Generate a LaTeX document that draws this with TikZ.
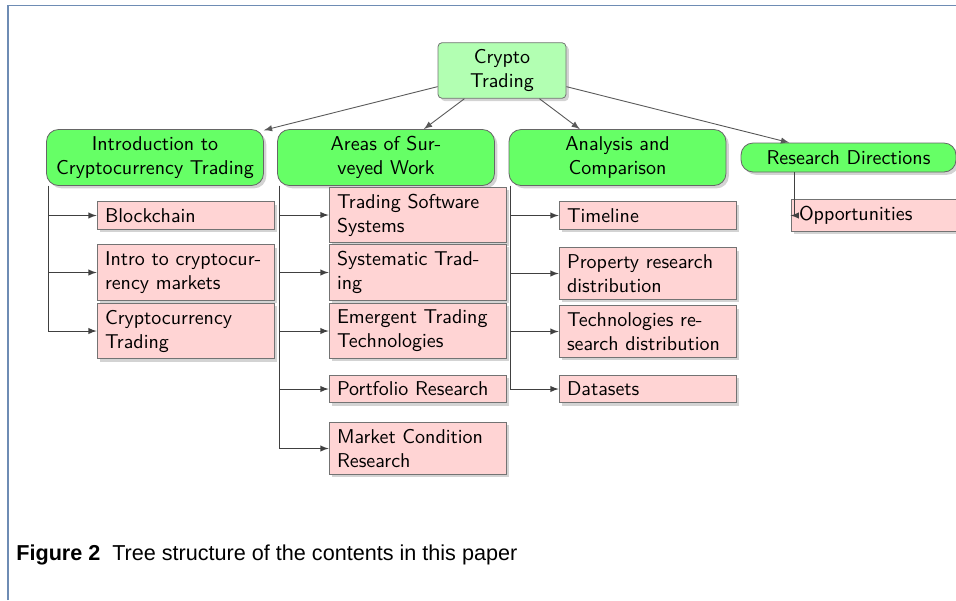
\documentclass[tikz,border=0pt]{standalone}
\usepackage{fontspec}
\newfontfamily\capsans{Liberation Sans}
\usetikzlibrary{shadows}
\definecolor{frameblue}{RGB}{110,140,180}

\tikzset{
    root/.style={draw=black!55, fill=green!30, rounded corners=2pt,
        drop shadow={shadow xshift=1.4pt,shadow yshift=-1.4pt,opacity=0.35},
        align=center, minimum width=64pt, minimum height=27.5pt},
    topic/.style={draw=black!60, fill=green!60, rounded corners=6pt,
        drop shadow={shadow xshift=1.4pt,shadow yshift=-1.4pt,opacity=0.35},
        align=center, text width=101.8pt, minimum height=28pt},
    leaf/.style={draw=black!55, fill=red!17,
        drop shadow={shadow xshift=1.4pt,shadow yshift=-1.4pt,opacity=0.35},
        align=left, text width=80.5pt, inner xsep=4pt, minimum height=13pt},
    link/.style={->, draw=black!75, line width=0.45pt}
}

\begin{document}
\begin{tikzpicture}[x=0.5pt,y=-0.5pt,font=\sffamily,>=latex]
    \newcommand{\leafLink}[2]{
        \draw[link] (#1.south west) ++(2,0) |- (#2.west);
    }
    \useasboundingbox (0,0) rectangle (956,600);

    % frame
    \draw[frameblue, line width=0.65pt] (8,600) -- (8,5.5) -- (956,5.5);

    \node[root] (crypto) at (502,70.5) {Crypto\\Trading};

    \node[topic] (intro) at (155,157.5) {Introduction to\\Cryptocurrency Trading};
    \node[topic] (areas) at (386,157.5) {Areas of Sur-\\veyed Work};
    \node[topic] (analysis) at (617.5,157.5) {Analysis and\\Comparison};
    \node[topic, text width=100.8pt, minimum height=14.5pt] (directions) at (848.5,157.5) {Research Directions};

    \node[leaf] (blockchain) at (185.5,215.5) {Blockchain};
    \node[leaf] (markets) at (185.5,272.5) {Intro to cryptocur-\\rency markets};
    \node[leaf] (cctrading) at (185.5,331) {Cryptocurrency\\Trading};

    \node[leaf] (software) at (417.5,215) {Trading Software\\Systems};
    \node[leaf] (systematic) at (417.5,272.5) {Systematic Trad-\\ing};
    \node[leaf] (emergent) at (417.5,331) {Emergent Trading\\Technologies};
    \node[leaf] (portfolio) at (417.5,389) {Portfolio Research};
    \node[leaf] (conditions) at (417.5,448.5) {Market Condition\\Research};

    \node[leaf] (timeline) at (647.5,215.5) {Timeline};
    \node[leaf] (property) at (647.5,273.5) {Property research\\distribution};
    \node[leaf] (technologies) at (647.5,331.5) {Technologies re-\\search distribution};
    \node[leaf] (datasets) at (647.5,389) {Datasets};

    \node[leaf] (opportunities) at (879.5,215.5) {Opportunities};

    \draw[link, draw=black!65] (crypto) -- (intro);
    \draw[link, draw=black!65] (crypto) -- (areas);
    \draw[link, draw=black!65] (crypto) -- (analysis);
    \draw[link, draw=black!65] (crypto) -- (directions);

    \leafLink{intro}{blockchain}
    \leafLink{intro}{markets}
    \leafLink{intro}{cctrading}
    \leafLink{areas}{software}
    \leafLink{areas}{systematic}
    \leafLink{areas}{emergent}
    \leafLink{areas}{portfolio}
    \leafLink{areas}{conditions}
    \leafLink{analysis}{timeline}
    \leafLink{analysis}{property}
    \leafLink{analysis}{technologies}
    \leafLink{analysis}{datasets}
    \draw[link] (directions.south west) ++(54,0) |- (opportunities.west);

    \node[anchor=base west, inner sep=0pt, font=\capsans\fontsize{10.8}{13}\selectfont] (caption) at (16,560)
        {\textbf{Figure 2}\hspace{0.55em}Tree structure of the contents in this paper};
\end{tikzpicture}
\end{document}
